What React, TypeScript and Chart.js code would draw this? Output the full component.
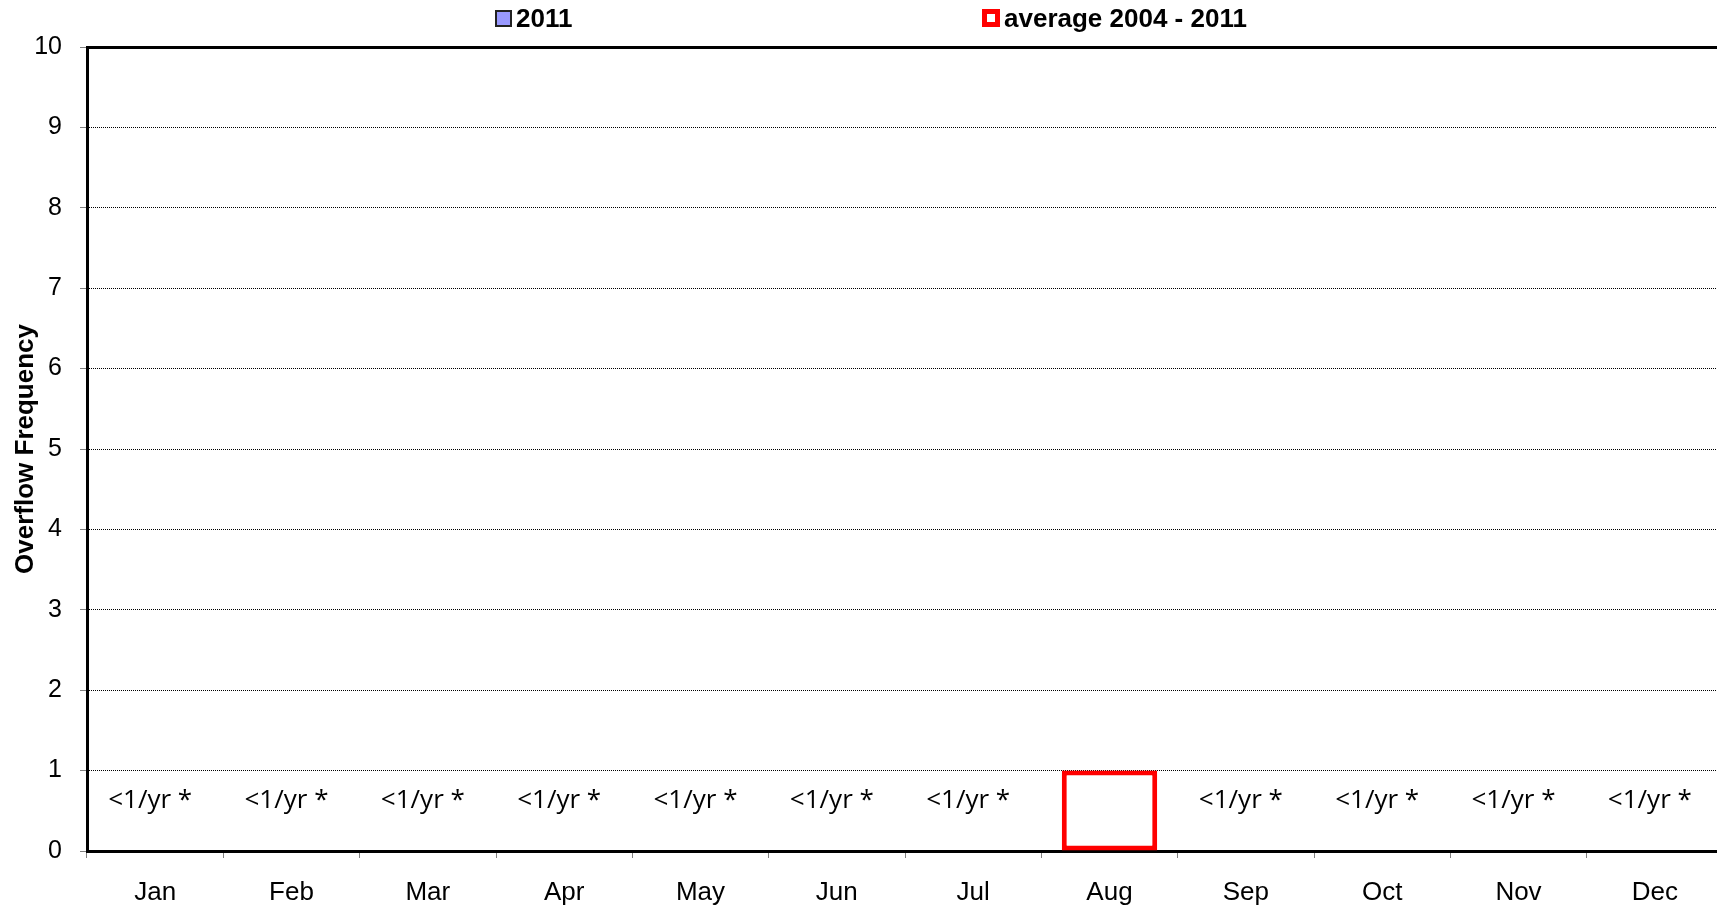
import React, { useEffect, useRef } from 'react';
import { Chart, registerables } from 'chart.js';

Chart.register(...registerables);

const months = ['Jan', 'Feb', 'Mar', 'Apr', 'May', 'Jun', 'Jul', 'Aug', 'Sep', 'Oct', 'Nov', 'Dec'];
const series2011 = [0, 0, 0, 0, 0, 0, 0, 0, 0, 0, 0, 0];
const seriesAverage = [0, 0, 0, 0, 0, 0, 0, 1, 0, 0, 0, 0];
const noteLabels = ['<1/yr *', '<1/yr *', '<1/yr *', '<1/yr *', '<1/yr *', '<1/yr *', '<1/yr *', '', '<1/yr *', '<1/yr *', '<1/yr *', '<1/yr *'];
const noteLevel = 0.63;
const yMin = 0;
const yMax = 10;
const yStep = 1;

const ARIAL = '"Liberation Sans", Arial, sans-serif';

const notesPlugin = {
  id: 'notes',
  afterDatasetsDraw(chart: any) {
    const { ctx, scales } = chart;
    const x = scales.x;
    const y = scales.y;
    ctx.save();
    ctx.font = '26px "Open Sans", sans-serif';
    ctx.fillStyle = '#000';
    ctx.textAlign = 'center';
    ctx.textBaseline = 'middle';
    noteLabels.forEach((t, i) => {
      if (!t) return;
      ctx.fillText(t, x.getPixelForValue(i) - 5, y.getPixelForValue(noteLevel));
    });
    ctx.restore();
  },
};

const legendPlugin = {
  id: 'topLegend',
  afterDraw(chart: any) {
    const { ctx } = chart;
    const ds = chart.data.datasets;
    const boxes = [
      { x: 495, y: 10, size: 17, bw: 2 },
      { x: 982, y: 9, size: 18, bw: 5 },
    ];
    ctx.save();
    ctx.font = 'bold 26px ' + ARIAL;
    ctx.textBaseline = 'middle';
    ctx.textAlign = 'left';
    ds.forEach((d: any, i: number) => {
      const b = boxes[i];
      ctx.fillStyle = i === 0 ? '#222' : d.borderColor;
      ctx.fillRect(b.x, b.y, b.size, b.size);
      ctx.fillStyle = d.backgroundColor;
      ctx.fillRect(b.x + b.bw, b.y + b.bw, b.size - 2 * b.bw, b.size - 2 * b.bw);
      ctx.fillStyle = '#000';
      ctx.fillText(d.label, b.x + b.size + 4, 20);
    });
    ctx.restore();
  },
};

export default function App() {
  const ref = useRef<HTMLCanvasElement | null>(null);

  useEffect(() => {
    if (!ref.current) return;
    const chart = new Chart(ref.current, {
      type: 'bar',
      data: {
        labels: months,
        datasets: [
          {
            label: '2011',
            data: series2011,
            backgroundColor: '#9999FF',
            borderColor: '#000000',
            borderWidth: 1,
            grouped: false,
            barPercentage: 0.7,
            categoryPercentage: 1,
          },
          {
            label: 'average 2004 - 2011',
            data: seriesAverage,
            backgroundColor: '#FFFFFF',
            borderColor: '#FF0000',
            borderWidth: 5,
            borderSkipped: false,
            grouped: false,
            barPercentage: 0.7,
            categoryPercentage: 1,
          },
        ],
      },
      options: {
        animation: false,
        responsive: true,
        maintainAspectRatio: false,
        layout: { padding: { top: 47, left: 0, right: 0, bottom: 0 } },
        plugins: {
          legend: { display: false },
          tooltip: { enabled: false },
        },
        scales: {
          x: {
            offset: true,
            grid: {
              display: true,
              offset: true,
              drawOnChartArea: false,
              drawTicks: true,
              tickLength: 7,
              tickColor: '#808080',
              tickWidth: 1,
            },
            border: { display: true, color: '#000', width: 3 },
            ticks: { font: { family: ARIAL, size: 26 }, color: '#000', padding: 19, maxRotation: 0 },
            afterFit: (s: any) => {
              s.height = 57;
            },
          },
          y: {
            min: yMin,
            max: yMax,
            ticks: { stepSize: yStep, font: { family: ARIAL, size: 25 }, color: '#000', padding: 18 },
            grid: {
              color: '#000',
              lineWidth: (c: any) => (c.tick && c.tick.value === yMax ? 3 : 1),
              drawTicks: true,
              tickLength: 7,
              tickWidth: 1,
              tickColor: '#808080',
            },
            border: {
              display: true,
              color: '#000',
              width: 3,
              dash: (c: any) => (c.tick && c.tick.value === yMax ? [] : [1, 1]),
            },
            title: {
              display: true,
              text: 'Overflow Frequency',
              color: '#000',
              font: { family: ARIAL, size: 26, weight: 'bold' },
              padding: { top: 10, bottom: 0 },
            },
            afterFit: (s: any) => {
              s.width = 87;
            },
          },
        },
      },
      plugins: [notesPlugin, legendPlugin],
    });
    return () => chart.destroy();
  }, []);

  return (
    <div style={{ position: 'fixed', left: 0, top: 0, width: 1717, height: 908, overflow: 'hidden', background: '#fff' }}>
      <div style={{ position: 'relative', width: 1723, height: 908 }}>
        <canvas ref={ref} />
      </div>
    </div>
  );
}
